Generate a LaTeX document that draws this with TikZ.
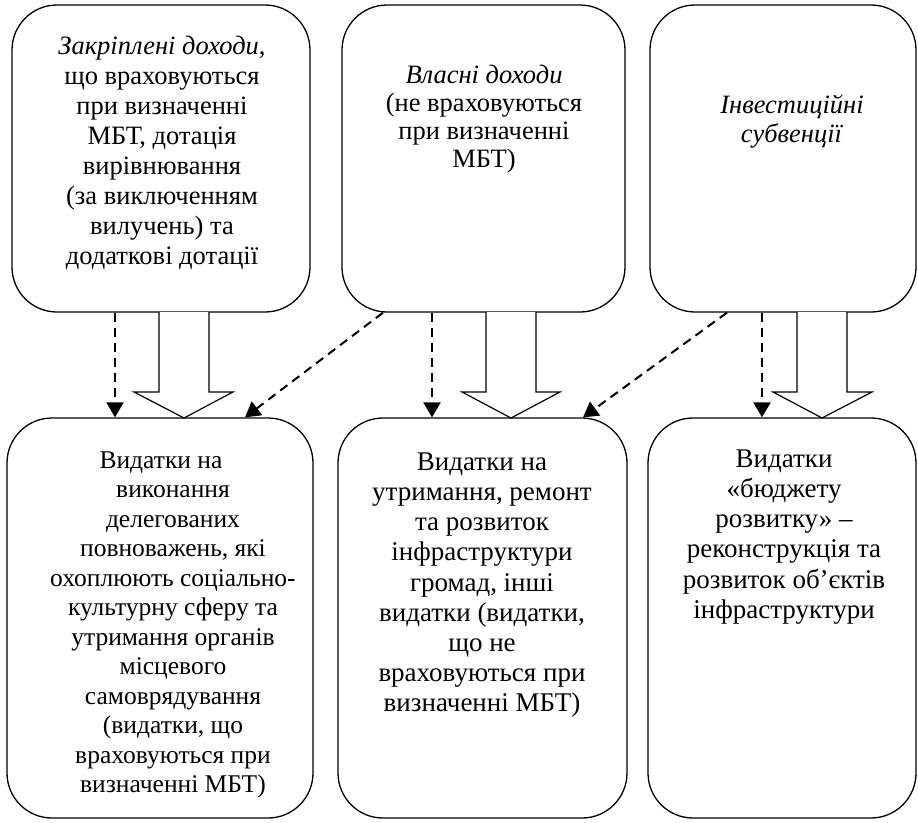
\documentclass[tikz,border=0pt]{standalone}
\usepackage{fontspec}
\setmainfont{Liberation Serif}
\usetikzlibrary{arrows.meta}
\newcommand{\fl}{\rule{0pt}{22pt}}
\begin{document}
\begin{tikzpicture}[x=1pt,y=-1pt,
  box/.style={draw, line width=1.3pt, rounded corners=45pt, inner sep=0pt, rectangle},
  txt/.style={align=center, inner sep=0pt, anchor=north},
  dasharrow/.style={line width=2pt, dash pattern=on 9pt off 6pt, -{Triangle[width=17pt,length=15pt]}},
  blockarrow/.style={draw, line width=1.2pt, fill=white, line join=miter},
]
\useasboundingbox (0,0) rectangle (918,822);
% boxes
\node[box, minimum width=298pt, minimum height=307pt] (tA) at (161,158.5) {};
\node[box, minimum width=283pt, minimum height=307pt] (tB) at (483.5,158.5) {};
\node[box, minimum width=266pt, minimum height=307pt] (tC) at (783,158.5) {};
\node[box, minimum width=306pt, minimum height=400pt] (bA) at (160,618) {};
\node[box, minimum width=289pt, minimum height=400pt] (bB) at (482.5,618) {};
\node[box, minimum width=268pt, minimum height=400pt] (bC) at (782,618) {};
% texts
\node[txt, font=\fontsize{26.5}{30}\selectfont] (tAt) at (162,32) {\fl\textit{Закріплені доходи},\\що враховуються\\при визначенні\\МБТ, дотація\\вирівнювання\\(за виключенням\\вилучень) та\\додаткові дотації};
\node[txt, font=\fontsize{26.5}{28}\selectfont] (tBt) at (484,61) {\fl\textit{Власні доходи}\\(не враховуються\\при визначенні\\МБТ)};
\node[txt, font=\fontsize{26.5}{29}\selectfont] (tCt) at (792,91) {\fl\textit{Інвестиційні}\\\textit{субвенції}};
\node[txt, font=\fontsize{25.5}{29.5}\selectfont] (bAt) at (173,446) {\fl Видатки на\hspace*{24pt}\\виконання\hspace*{40pt}\\делегованих\\повноважень, які\\охоплюють соціально-\\культурну сферу та\\утримання органів\\місцевого\\самоврядування\\(видатки, що\\враховуються при\\визначенні МБТ)};
\node[txt, font=\fontsize{27}{30.2}\selectfont] (bBt) at (482,448) {\fl Видатки на\\утримання, ремонт\\та розвиток\\інфраструктури\\громад, інші\\видатки (видатки,\\що не\\враховуються при\\визначенні МБТ)};
\node[txt, font=\fontsize{27}{30.2}\selectfont] (bCt) at (784,445) {\fl Видатки\\«бюджету\\розвитку» –\\реконструкція та\\розвиток об’єктів\\інфраструктури};
% x positions for connectors
\coordinate (x1) at (115,0);
\coordinate (x2) at (432,0);
\coordinate (x3) at (762,0);
\coordinate (d1s) at (383,0);
\coordinate (d1e) at (245,0);
\coordinate (d2s) at (727,0);
\coordinate (d2e) at (583,0);
% block arrows
\draw[blockarrow] (159,312) -- (159,392) -- (134,392) -- (184,418) -- (233,392) -- (209,392) -- (209,312);
\draw[blockarrow] (486,312) -- (486,392) -- (462,392) -- (511,418) -- (560,392) -- (536,392) -- (536,312);
\draw[blockarrow] (797,312) -- (797,392) -- (773,392) -- (822,418) -- (872,392) -- (847,392) -- (847,312);
% dashed arrows
\draw[dasharrow] (tA.south -| x1) -- (bA.north -| x1);
\draw[dasharrow] (tB.south -| x2) -- (bB.north -| x2);
\draw[dasharrow] (tC.south -| x3) -- (bC.north -| x3);
\draw[dasharrow] (tB.south -| d1s) -- (bA.north -| d1e);
\draw[dasharrow] (tC.south -| d2s) -- (bB.north -| d2e);
\end{tikzpicture}
\end{document}
